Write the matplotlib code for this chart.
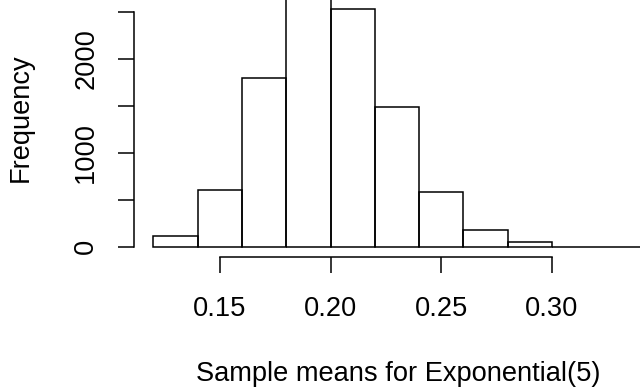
import matplotlib
matplotlib.use("Agg")
import matplotlib.pyplot as plt
import numpy as np

bin_edges = [0.12, 0.14, 0.16, 0.18, 0.20, 0.22, 0.24, 0.26, 0.28, 0.30, 0.32, 0.34]
counts = [114, 600, 1798, 2650, 2529, 1489, 585, 178, 53, 2, 1]
x_ticks = [0.15, 0.20, 0.25, 0.30]
x_tick_labels = ["0.15", "0.20", "0.25", "0.30"]
y_ticks = [0, 500, 1000, 1500, 2000, 2500]
y_tick_labels = ["0", "", "1000", "", "2000", ""]

plt.rcParams["font.family"] = ["Liberation Sans", "DejaVu Sans"]

W, H = 640, 388
fig = plt.figure(figsize=(W / 100, H / 100), dpi=100)

# plot region in pixels (R style, part of it falls outside the crop)
left_px, right_px = 134, 660
bottom_px, top_px = 256.7, -12.4
ax = fig.add_axes([left_px / W, (H - bottom_px) / H, (right_px - left_px) / W, (bottom_px - top_px) / H])

lefts = np.array(bin_edges[:-1])
widths = np.diff(bin_edges)
ax.bar(lefts, counts, width=widths, align="edge", fill=False, edgecolor="black", linewidth=1.1)

span = bin_edges[-1] - bin_edges[0]
ax.set_xlim(bin_edges[0] - 0.04 * span, bin_edges[-1] + 0.04 * span)
ymax = max(counts)
ax.set_ylim(-0.04 * ymax, ymax * 1.04)

for side in ["top", "right"]:
    ax.spines[side].set_visible(False)
ax.spines["left"].set_bounds(y_ticks[0], y_ticks[-1])
ax.spines["bottom"].set_bounds(x_ticks[0], x_ticks[-1])
for side in ["left", "bottom"]:
    ax.spines[side].set_linewidth(1.1)

fs = 19.6
ax.set_xticks(x_ticks, x_tick_labels)
ax.set_yticks(y_ticks, y_tick_labels)
ax.tick_params(axis="both", direction="out", length=11.5, width=1.1, labelsize=fs, colors="black")
ax.tick_params(axis="x", pad=16.5)
ax.tick_params(axis="y", pad=13.5)
for lab in ax.get_yticklabels():
    lab.set_rotation(90)
    lab.set_va("center")

ax.set_xlabel("Sample means for Exponential(5)", fontsize=fs)
ax.set_ylabel("Frequency", fontsize=fs)
ax.xaxis.set_label_coords(398 / W, (H - 374) / H, transform=fig.transFigure)
ax.yaxis.set_label_coords(21 / W, (H - 118) / H, transform=fig.transFigure)
ax.xaxis.label.set_va("center")
ax.yaxis.label.set_va("center")

fig.savefig("out.png", dpi=100)
